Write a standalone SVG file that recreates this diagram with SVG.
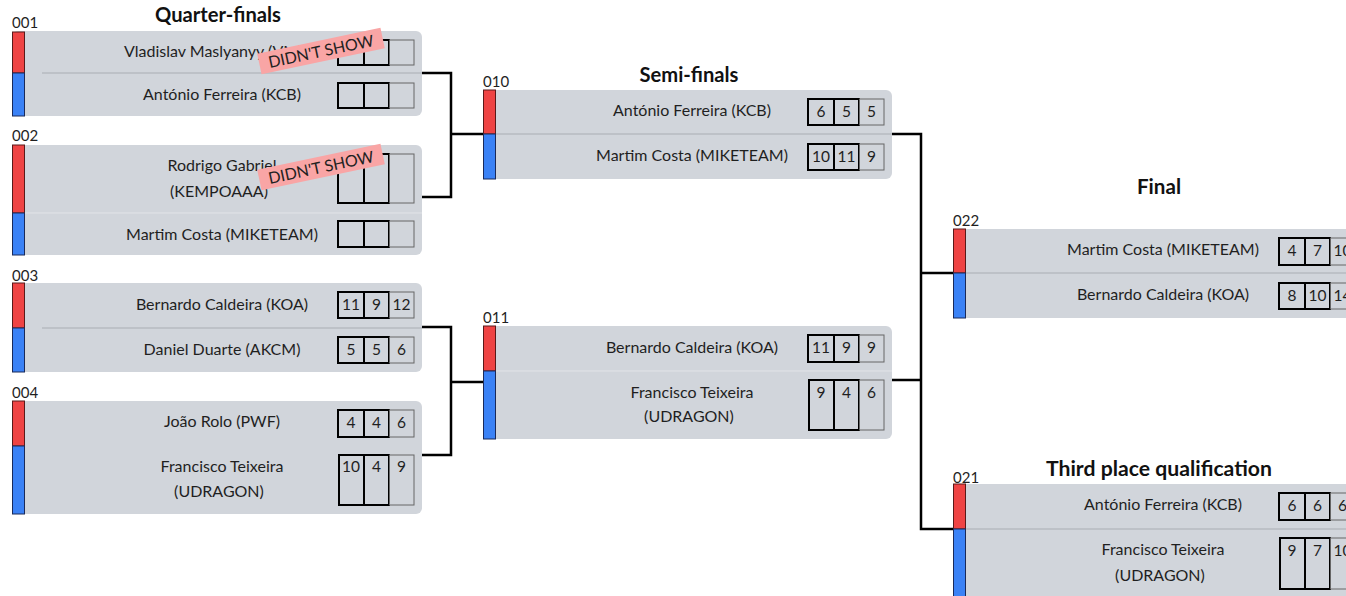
<svg xmlns="http://www.w3.org/2000/svg" width="1346" height="596" viewBox="0 0 1346 596">
<style>
text{font-family:Lato,"Noto Sans","Liberation Sans",sans-serif;fill:#1f1f1f}
.title{font-size:20px;font-weight:bold;text-anchor:middle;fill:#111}
.mid{font-size:15px}
.name{font-size:16px;text-anchor:middle}
.num{font-size:15.5px;text-anchor:middle}
.bg{fill:#d1d5db}
.red{fill:#ef4444;stroke:#5a1a1a;stroke-width:1}
.blue{fill:#3b82f6;stroke:#1a2a5a;stroke-width:1}
.div{stroke:#a9adb3;stroke-width:1}
.divl{stroke:#e2e4e8;stroke-width:1}
.c1{fill:none;stroke:#000;stroke-width:2}
.c3{fill:none;stroke:#666;stroke-width:1}
.conn{fill:none;stroke:#000;stroke-width:2.5}
.dns rect{fill:#f9a5a5}
.dns text{font-size:16px;text-anchor:middle;fill:#222}
</style>

<g id="connectors">
<path class="conn" d="M422,73 H451 V197 H422 M451,134 H483"/>
<path class="conn" d="M422,327 H451 V455 H422 M451,382 H483"/>
<path class="conn" d="M892,134 H921 V380 H892 M921,273 H953 M921,380 V529 H953"/>
</g>

<g id="titles">
<text class="title" x="218" y="22" textLength="126" lengthAdjust="spacingAndGlyphs">Quarter-finals</text>
<text class="title" x="689" y="82" textLength="99" lengthAdjust="spacingAndGlyphs">Semi-finals</text>
<text class="title" x="1159" y="194" textLength="44" lengthAdjust="spacingAndGlyphs">Final</text>
<text class="title" x="1159" y="476" textLength="226" lengthAdjust="spacingAndGlyphs">Third place qualification</text>
</g>

<g id="match-001">
<text class="mid" x="12" y="28">001</text>
<rect class="bg" x="12" y="31" width="410" height="85" rx="6"/>
<line class="div" x1="42" y1="73" x2="422" y2="73"/>
<rect class="red" x="12.5" y="32" width="12" height="41"/>
<rect class="blue" x="12.5" y="73" width="12" height="43"/>
<text class="name" x="124" y="57" style="text-anchor:start">Vladislav Maslyanyy (VM)</text>
<rect class="c1" x="338" y="40" width="26" height="25"/>
<rect class="c1" x="364" y="40" width="25" height="25"/>
<rect class="c3" x="389.5" y="40" width="24.5" height="25"/>
<text class="name" x="222" y="100">António Ferreira (KCB)</text>
<rect class="c1" x="338" y="83" width="26" height="25"/>
<rect class="c1" x="364" y="83" width="25" height="25"/>
<rect class="c3" x="389.5" y="83" width="24.5" height="25"/>
<g class="dns" transform="translate(321,51) rotate(-12)">
<rect x="-63" y="-10.5" width="126" height="21"/>
<text x="0" y="6">DIDN'T SHOW</text>
</g>
</g>

<g id="match-002">
<text class="mid" x="12" y="141">002</text>
<rect class="bg" x="12" y="145" width="410" height="110" rx="6"/>
<line class="divl" x1="24" y1="213" x2="422" y2="213"/>
<rect class="red" x="12.5" y="145" width="12" height="68"/>
<rect class="blue" x="12.5" y="213" width="12" height="42"/>
<text class="name" x="222" y="171">Rodrigo Gabriel</text>
<text class="name" x="219" y="197">(KEMPOAAA)</text>
<rect class="c1" x="338" y="154" width="26" height="49"/>
<rect class="c1" x="364" y="154" width="25" height="49"/>
<rect class="c3" x="389.5" y="154" width="24.5" height="49"/>
<text class="name" x="222" y="240">Martim Costa (MIKETEAM)</text>
<rect class="c1" x="338" y="221" width="26" height="26"/>
<rect class="c1" x="364" y="221" width="25" height="26"/>
<rect class="c3" x="389.5" y="221" width="24.5" height="26"/>
<g class="dns" transform="translate(321,167) rotate(-12)">
<rect x="-63" y="-10.5" width="126" height="21"/>
<text x="0" y="6">DIDN'T SHOW</text>
</g>
</g>

<g id="match-003">
<text class="mid" x="12" y="281">003</text>
<rect class="bg" x="12" y="283" width="410" height="89" rx="6"/>
<line class="div" x1="42" y1="328" x2="422" y2="328"/>
<rect class="red" x="12.5" y="283" width="12" height="45"/>
<rect class="blue" x="12.5" y="328" width="12" height="44"/>
<text class="name" x="222" y="310">Bernardo Caldeira (KOA)</text>
<rect class="c1" x="338" y="292" width="26" height="26"/>
<rect class="c1" x="364" y="292" width="25" height="26"/>
<rect class="c3" x="389.5" y="292" width="24.5" height="26"/>
<text class="num" x="351" y="310">11</text><text class="num" x="376.5" y="310">9</text><text class="num" x="401.5" y="310">12</text>
<text class="name" x="222" y="355">Daniel Duarte (AKCM)</text>
<rect class="c1" x="338" y="337" width="26" height="26"/>
<rect class="c1" x="364" y="337" width="25" height="26"/>
<rect class="c3" x="389.5" y="337" width="24.5" height="26"/>
<text class="num" x="351" y="355">5</text><text class="num" x="376.5" y="355">5</text><text class="num" x="401.5" y="355">6</text>
</g>

<g id="match-004">
<text class="mid" x="12" y="398">004</text>
<rect class="bg" x="12" y="401" width="410" height="113" rx="6"/>
<rect class="red" x="12.5" y="401" width="12" height="45"/>
<rect class="blue" x="12.5" y="446" width="12" height="68"/>
<text class="name" x="222" y="427">João Rolo (PWF)</text>
<rect class="c1" x="338" y="410" width="26" height="27"/>
<rect class="c1" x="364" y="410" width="25" height="27"/>
<rect class="c3" x="389.5" y="410" width="24.5" height="27"/>
<text class="num" x="351" y="428">4</text><text class="num" x="376.5" y="428">4</text><text class="num" x="401.5" y="428">6</text>
<text class="name" x="222" y="472">Francisco Teixeira</text>
<text class="name" x="219" y="497">(UDRAGON)</text>
<rect class="c1" x="339" y="455" width="25" height="50"/>
<rect class="c1" x="364" y="455" width="25" height="50"/>
<rect class="c3" x="389.5" y="455" width="24.5" height="50"/>
<text class="num" x="351" y="472">10</text><text class="num" x="376.5" y="472">4</text><text class="num" x="401.5" y="472">9</text>
</g>

<g id="match-010">
<text class="mid" x="483" y="87">010</text>
<rect class="bg" x="483" y="90" width="409" height="89" rx="6"/>
<line class="div" x1="495" y1="134" x2="892" y2="134"/>
<rect class="red" x="483.5" y="90" width="12" height="44"/>
<rect class="blue" x="483.5" y="134" width="12" height="45"/>
<text class="name" x="692" y="116">António Ferreira (KCB)</text>
<rect class="c1" x="808" y="99" width="26" height="26"/>
<rect class="c1" x="834" y="99" width="25" height="26"/>
<rect class="c3" x="859.5" y="99" width="24.5" height="26"/>
<text class="num" x="821" y="117">6</text><text class="num" x="846.5" y="117">5</text><text class="num" x="871.5" y="117">5</text>
<text class="name" x="692" y="161">Martim Costa (MIKETEAM)</text>
<rect class="c1" x="808" y="144" width="26" height="26"/>
<rect class="c1" x="834" y="144" width="25" height="26"/>
<rect class="c3" x="859.5" y="144" width="24.5" height="26"/>
<text class="num" x="821" y="162">10</text><text class="num" x="846.5" y="162">11</text><text class="num" x="871.5" y="162">9</text>
</g>

<g id="match-011">
<text class="mid" x="483" y="323">011</text>
<rect class="bg" x="483" y="326" width="409" height="113" rx="6"/>
<line class="divl" x1="495" y1="371" x2="892" y2="371"/>
<rect class="red" x="483.5" y="326" width="12" height="45"/>
<rect class="blue" x="483.5" y="371" width="12" height="68"/>
<text class="name" x="692" y="353">Bernardo Caldeira (KOA)</text>
<rect class="c1" x="808" y="335" width="26" height="27"/>
<rect class="c1" x="834" y="335" width="25" height="27"/>
<rect class="c3" x="859.5" y="335" width="24.5" height="27"/>
<text class="num" x="821" y="353">11</text><text class="num" x="846.5" y="353">9</text><text class="num" x="871.5" y="353">9</text>
<text class="name" x="692" y="398">Francisco Teixeira</text>
<text class="name" x="689" y="422">(UDRAGON)</text>
<rect class="c1" x="809" y="380" width="25" height="50"/>
<rect class="c1" x="834" y="380" width="25" height="50"/>
<rect class="c3" x="859.5" y="380" width="24.5" height="50"/>
<text class="num" x="821" y="398">9</text><text class="num" x="846.5" y="398">4</text><text class="num" x="871.5" y="398">6</text>
</g>

<g id="match-022">
<text class="mid" x="953" y="226">022</text>
<rect class="bg" x="953" y="229" width="420" height="89" rx="6"/>
<line class="div" x1="965" y1="273" x2="1346" y2="273"/>
<rect class="red" x="953.5" y="229" width="12" height="44"/>
<rect class="blue" x="953.5" y="273" width="12" height="45"/>
<text class="name" x="1163" y="255">Martim Costa (MIKETEAM)</text>
<rect class="c1" x="1279" y="238" width="26" height="27"/>
<rect class="c1" x="1305" y="238" width="25" height="27"/>
<rect class="c3" x="1330.5" y="238" width="24.5" height="27"/>
<text class="num" x="1292" y="256">4</text><text class="num" x="1317.5" y="256">7</text><text class="num" x="1342.5" y="256">10</text>
<text class="name" x="1163" y="300">Bernardo Caldeira (KOA)</text>
<rect class="c1" x="1279" y="283" width="26" height="26"/>
<rect class="c1" x="1305" y="283" width="25" height="26"/>
<rect class="c3" x="1330.5" y="283" width="24.5" height="26"/>
<text class="num" x="1292" y="301">8</text><text class="num" x="1317.5" y="301">10</text><text class="num" x="1342.5" y="301">14</text>
</g>

<g id="match-021">
<text class="mid" x="953" y="483">021</text>
<rect class="bg" x="953" y="484" width="420" height="130" rx="6"/>
<line class="div" x1="965" y1="529" x2="1346" y2="529"/>
<rect class="red" x="953.5" y="484" width="12" height="45"/>
<rect class="blue" x="953.5" y="529" width="12" height="80"/>
<text class="name" x="1163" y="510">António Ferreira (KCB)</text>
<rect class="c1" x="1279" y="493" width="26" height="27"/>
<rect class="c1" x="1305" y="493" width="25" height="27"/>
<rect class="c3" x="1330.5" y="493" width="24.5" height="27"/>
<text class="num" x="1292" y="511">6</text><text class="num" x="1317.5" y="511">6</text><text class="num" x="1342.5" y="511">6</text>
<text class="name" x="1163" y="555">Francisco Teixeira</text>
<text class="name" x="1160" y="581">(UDRAGON)</text>
<rect class="c1" x="1280" y="538" width="25" height="51"/>
<rect class="c1" x="1305" y="538" width="25" height="51"/>
<rect class="c3" x="1330.5" y="538" width="24.5" height="51"/>
<text class="num" x="1292" y="556">9</text><text class="num" x="1317.5" y="556">7</text><text class="num" x="1342.5" y="556">10</text>
</g>
</svg>
